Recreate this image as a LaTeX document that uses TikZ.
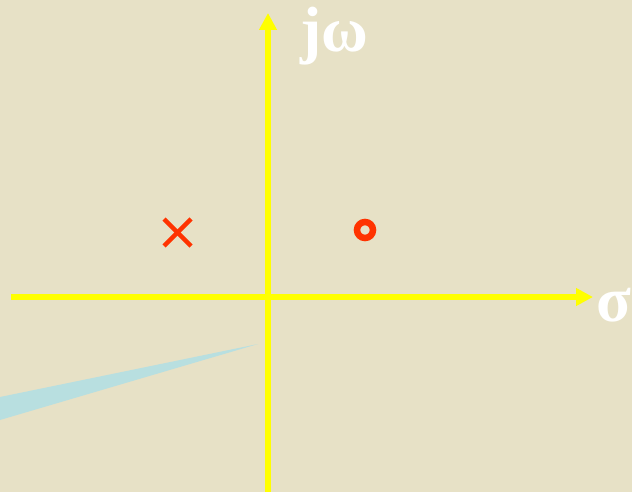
\documentclass[tikz,border=0pt]{standalone}
\usepackage{fontspec}
\setmainfont{Liberation Serif}
\usetikzlibrary{arrows.meta,calc}
\definecolor{bgc}{HTML}{E7E1C6}
\definecolor{axisc}{HTML}{FFFF00}
\definecolor{polec}{HTML}{FF3300}
\definecolor{wedgec}{HTML}{B8DFE0}
\tikzset{
  axis/.style={draw=axisc, line width=5.5pt, -{Triangle[length=17pt,width=17pt]}},
  lbl/.style={text=white, font=\bfseries\fontsize{64}{70}\selectfont, inner sep=0pt},
  polemark/.style={draw=polec, line width=4.5pt},
}
\begin{document}
\begin{tikzpicture}[x=1pt,y=-1pt]
\fill[bgc] (0,0) rectangle (632,492);
\useasboundingbox (0,0) rectangle (632,492);
% wedge
\fill[wedgec] (258,344) -- (0,397) -- (0,420) -- cycle;
% axes
\coordinate (xs) at (11,297);
\coordinate (xe) at (593,297);
\coordinate (ys) at (268,492);
\coordinate (ye) at (268,13);
\draw[axis] (xs) -- (xe);
\draw[axis] (ys) -- (ye);
% labels
\node[lbl, anchor=base west] (jw) at (300,52) {jω};
\node[lbl, anchor=base west] (sig) at (596,321) {σ};
% pole (cross)
\coordinate (p) at (177.5,232.5);
\draw[polemark] ($(p)+(-13.5,-13.5)$) -- ($(p)+(13.5,13.5)$);
\draw[polemark] ($(p)+(-13.5,13.5)$) -- ($(p)+(13.5,-13.5)$);
% zero (circle)
\node[draw=polec, line width=6.5pt, circle, minimum size=16pt, inner sep=0pt] (z) at (365,230) {};
\end{tikzpicture}
\end{document}
